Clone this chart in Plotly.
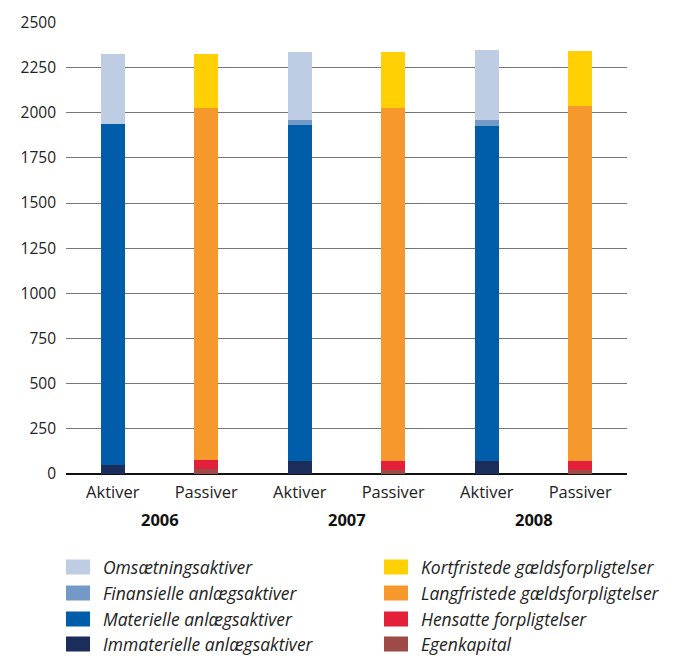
import plotly.graph_objects as go

years = ["2006", "2007", "2008"]
sides = ["Aktiver", "Passiver"]
tick_labels = ["Aktiver", "Passiver", "Aktiver", "Passiver", "Aktiver", "Passiver"]

# Aktiver series (bottom to top), one value per year
aktiver_names = ["Immaterielle anlægsaktiver", "Materielle anlægsaktiver",
                 "Finansielle anlægsaktiver", "Omsætningsaktiver"]
immaterielle = [50, 72, 72]
materielle = [1886, 1858, 1853]
finansielle = [0, 28, 33]
omsaetning = [387, 376, 387]

# Passiver series (bottom to top)
passiver_names = ["Egenkapital", "Hensatte forpligtelser",
                  "Langfristede gældsforpligtelser", "Kortfristede gældsforpligtelser"]
egenkapital = [25, 20, 20]
hensatte = [52, 52, 52]
langfristede = [1947, 1952, 1963]
kortfristede = [299, 310, 305]

aktiver_colors = ["#1B2D5B", "#005DAA", "#7399C6", "#BFCDE4"]
passiver_colors = ["#9E4A47", "#E31F3A", "#F7982C", "#FFD004"]

y_ticks = [0, 250, 500, 750, 1000, 1250, 1500, 1750, 2000, 2250, 2500]

aktiver_x = [0, 2, 4]
passiver_x = [1, 3, 5]

fig = go.Figure()
for name, vals, col in zip(aktiver_names, [immaterielle, materielle, finansielle, omsaetning], aktiver_colors):
    fig.add_trace(go.Bar(x=aktiver_x, y=vals, name=name, marker=dict(color=col, line=dict(width=0)),
                         width=0.257, showlegend=False))
for name, vals, col in zip(passiver_names, [egenkapital, hensatte, langfristede, kortfristede], passiver_colors):
    fig.add_trace(go.Bar(x=passiver_x, y=vals, name=name, marker=dict(color=col, line=dict(width=0)),
                         width=0.257, showlegend=False))

font_family = "Open Sans, DejaVu Sans, sans-serif"

W, H = 678, 657
ML, MR, MT, MB = 66, 51, 22, 183

fig.update_layout(
    barmode="stack",
    width=W, height=H,
    margin=dict(l=ML, r=MR, t=MT, b=MB),
    paper_bgcolor="white", plot_bgcolor="white",
    font=dict(family=font_family, color="#1a1a1a"),
    xaxis=dict(range=[-0.5, 5.5], tickvals=list(range(6)), ticktext=tick_labels,
               showgrid=False, zeroline=False, showline=False, ticks="",
               ticklabelstandoff=6,
               tickfont=dict(size=16.5, color="#222222")),
    yaxis=dict(range=[0, 2502], tickvals=y_ticks, ticktext=[str(v) for v in y_ticks],
               showgrid=True, gridcolor="#777777", gridwidth=1.3,
               zeroline=True, zerolinecolor="#111111", zerolinewidth=1.5,
               showline=False, ticks="", ticklabelstandoff=9,
               tickfont=dict(size=15.5, color="#222222")),
)

plot_h = H - MT - MB
plot_w = W - ML - MR
def py(pix):
    return (H - MB - pix) / plot_h
def px(pix):
    return (pix - ML) / plot_w

annotations = []
for i, yr in enumerate(years):
    annotations.append(dict(x=2 * i + 0.5, y=py(519), xref="x", yref="paper", text="<b>" + yr + "</b>",
                            showarrow=False, font=dict(size=16.5, color="#111111"), yanchor="middle"))

# Manual legend: two columns
shapes = []
leg_rows_y = [567, 593, 619, 644]

col_defs = [
    (66, list(reversed(aktiver_names)), list(reversed(aktiver_colors))),
    (384, list(reversed(passiver_names)), list(reversed(passiver_colors))),
]

for x0, names, cols in col_defs:
    for yy, nm, cl in zip(leg_rows_y, names, cols):
        shapes.append(dict(type="rect", xref="paper", yref="paper",
                           x0=px(x0), x1=px(x0 + 24), y0=py(yy + 7.5), y1=py(yy - 7.5),
                           fillcolor=cl, line=dict(width=0)))
        annotations.append(dict(x=px(x0 + 35), y=py(yy), xref="paper", yref="paper",
                                text="<i>" + nm + "</i>", showarrow=False, xanchor="left",
                                yanchor="middle", font=dict(size=17.5, color="#222222")))

fig.update_layout(annotations=annotations, shapes=shapes)
fig.write_html("out.html", config={"displayModeBar": False},
               post_script="document.body.style.margin='0';document.body.style.overflow='hidden';")
